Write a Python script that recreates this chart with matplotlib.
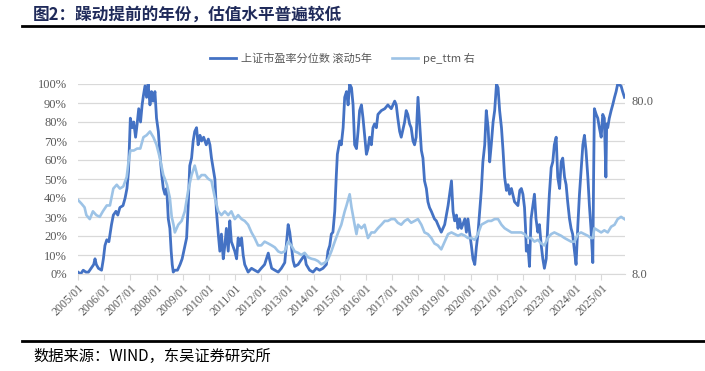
import matplotlib
matplotlib.use('Agg')
import matplotlib.pyplot as plt
from matplotlib.ticker import FixedLocator, NullLocator

plt.rcParams['font.family'] = ['Noto Sans CJK SC', 'DejaVu Sans']

# 上证市盈率分位数 滚动5年 (%), 时间为年份小数
t_pct = [2005.00, 2005.10, 2005.20, 2005.30, 2005.40, 2005.50, 2005.60, 2005.65, 2005.70, 2005.78,
         2005.90, 2005.97, 2006.03, 2006.10, 2006.18, 2006.28, 2006.35, 2006.45, 2006.52, 2006.60,
         2006.72, 2006.80, 2006.87, 2006.93, 2007.00, 2007.07, 2007.13, 2007.20, 2007.26, 2007.32,
         2007.39, 2007.45, 2007.50, 2007.56, 2007.62, 2007.68, 2007.75, 2007.81, 2007.87, 2007.94,
         2008.00, 2008.07, 2008.13, 2008.20, 2008.26, 2008.32, 2008.39, 2008.45, 2008.51, 2008.56,
         2008.60, 2008.64, 2008.70, 2008.80, 2008.90, 2008.98, 2009.15, 2009.21, 2009.27, 2009.34,
         2009.40, 2009.46, 2009.53, 2009.59, 2009.66, 2009.72, 2009.80, 2009.90, 2009.98, 2010.04,
         2010.10, 2010.23, 2010.29, 2010.36, 2010.42, 2010.48, 2010.55, 2010.61, 2010.67, 2010.74,
         2010.80, 2010.86, 2010.99, 2011.06, 2011.12, 2011.18, 2011.25, 2011.31, 2011.37, 2011.50,
         2011.63, 2011.75, 2011.88, 2012.00, 2012.13, 2012.27, 2012.33, 2012.40, 2012.52, 2012.65,
         2012.77, 2012.90, 2012.96, 2013.03, 2013.09, 2013.15, 2013.22, 2013.28, 2013.41, 2013.53,
         2013.66, 2013.72, 2013.85, 2013.98, 2014.11, 2014.23, 2014.36, 2014.49, 2014.55, 2014.62,
         2014.68, 2014.74, 2014.81, 2014.87, 2014.91, 2015.00, 2015.06, 2015.13, 2015.19, 2015.26,
         2015.32, 2015.38, 2015.45, 2015.51, 2015.57, 2015.64, 2015.70, 2015.76, 2015.83, 2015.89,
         2015.95, 2016.02, 2016.08, 2016.14, 2016.21, 2016.27, 2016.33, 2016.40, 2016.46, 2016.59,
         2016.72, 2016.84, 2016.97, 2017.10, 2017.16, 2017.22, 2017.29, 2017.35, 2017.48, 2017.54,
         2017.60, 2017.67, 2017.73, 2017.80, 2017.86, 2017.92, 2017.99, 2018.05, 2018.12, 2018.18,
         2018.24, 2018.31, 2018.37, 2018.43, 2018.50, 2018.56, 2018.62, 2018.69, 2018.75, 2018.88,
         2019.01, 2019.14, 2019.20, 2019.27, 2019.33, 2019.39, 2019.46, 2019.52, 2019.58, 2019.65,
         2019.78, 2019.84, 2019.90, 2019.97, 2020.03, 2020.09, 2020.16, 2020.22, 2020.28, 2020.35,
         2020.41, 2020.47, 2020.54, 2020.60, 2020.67, 2020.73, 2020.79, 2020.86, 2020.92, 2020.99,
         2021.05, 2021.11, 2021.18, 2021.24, 2021.30, 2021.37, 2021.43, 2021.49, 2021.56, 2021.68,
         2021.81, 2021.88, 2021.94, 2022.00, 2022.06, 2022.10, 2022.13, 2022.19, 2022.25, 2022.31,
         2022.44, 2022.50, 2022.57, 2022.63, 2022.70, 2022.76, 2022.82, 2022.89, 2022.95, 2023.01,
         2023.08, 2023.14, 2023.20, 2023.27, 2023.33, 2023.40, 2023.46, 2023.52, 2023.59, 2023.65,
         2023.71, 2023.78, 2023.84, 2023.90, 2023.97, 2024.03, 2024.10, 2024.16, 2024.22, 2024.29,
         2024.35, 2024.41, 2024.48, 2024.54, 2024.60, 2024.67, 2024.70, 2024.73, 2024.80, 2024.86,
         2024.92, 2024.99, 2025.05, 2025.11, 2025.17, 2025.20, 2025.24, 2025.30, 2025.37, 2025.43,
         2025.50, 2025.56, 2025.62, 2025.75, 2025.81, 2025.88]
pct = [1, 0, 2, 1, 1, 3, 5, 8, 5, 3,
       2, 8, 15, 18, 17, 26, 31, 33, 31, 35,
       36, 40, 45, 54, 82, 77, 80, 72, 79, 87,
       80, 89, 94, 99, 93, 100, 89, 96, 91, 96,
       82, 75, 63, 52, 45, 42, 45, 29, 24, 12,
       5, 1, 2, 2, 5, 8, 19, 36, 57, 61,
       70, 75, 77, 68, 73, 70, 72, 68, 71, 68,
       61, 50, 33, 21, 12, 21, 8, 15, 24, 12,
       28, 17, 12, 8, 19, 15, 19, 10, 5, 1,
       3, 2, 1, 3, 5, 11, 7, 3, 2, 1,
       3, 6, 15, 26, 22, 15, 7, 4, 5, 7.5,
       10, 5, 2, 1, 3, 2, 3, 5, 12, 15,
       21, 22, 33, 52, 63, 70, 68, 77, 93, 96,
       89, 100, 98, 89, 68, 66, 75, 86, 89, 82,
       73, 63, 66, 72, 68, 77, 79, 77, 84, 86,
       87, 89, 87, 91, 89, 82, 75, 72, 80, 86,
       84, 79, 77, 70, 68, 72, 93, 80, 65, 61,
       49, 45, 38, 35, 33, 31, 29, 28, 26, 22,
       26, 36, 42, 49, 33, 28, 31, 24, 29, 24,
       29, 22, 29, 21, 15, 8, 5, 14, 21, 33,
       44, 59, 68, 86, 77, 59, 68, 80, 86, 100,
       98, 86, 77, 65, 51, 44, 47, 42, 45, 38,
       36, 44, 45, 42, 35, 24, 12, 15, 4, 29,
       42, 29, 22, 26, 15, 8, 3, 8, 26, 42,
       56, 59, 68, 72, 51, 45, 59, 61, 51, 47,
       38, 29, 24, 21, 12, 5, 26, 42, 54, 68,
       73, 65, 51, 36, 24, 6, 51, 87, 84, 82,
       77, 72, 84, 82, 51, 79, 77, 82, 86, 89,
       93, 96, 100, 99, 96, 93]

# pe_ttm (右轴, 对数坐标)
t_pe = [2005.00, 2005.13, 2005.25, 2005.32, 2005.45, 2005.57, 2005.70, 2005.83, 2005.95, 2006.10,
        2006.22, 2006.35, 2006.48, 2006.60, 2006.73, 2006.86, 2006.93, 2007.00, 2007.13, 2007.26,
        2007.38, 2007.50, 2007.62, 2007.75, 2007.88, 2008.00, 2008.13, 2008.26, 2008.32, 2008.40,
        2008.51, 2008.58, 2008.65, 2008.70, 2008.83, 2008.96, 2009.08, 2009.21, 2009.34, 2009.46,
        2009.59, 2009.72, 2009.85, 2009.98, 2010.10, 2010.23, 2010.36, 2010.48, 2010.61, 2010.74,
        2010.86, 2010.99, 2011.12, 2011.25, 2011.37, 2011.50, 2011.63, 2011.75, 2011.88, 2012.00,
        2012.13, 2012.27, 2012.40, 2012.52, 2012.65, 2012.77, 2012.90, 2013.03, 2013.15, 2013.28,
        2013.41, 2013.53, 2013.66, 2013.79, 2013.92, 2014.05, 2014.17, 2014.30, 2014.43, 2014.55,
        2014.68, 2014.81, 2014.94, 2015.06, 2015.19, 2015.26, 2015.38, 2015.45, 2015.57, 2015.64,
        2015.70, 2015.83, 2015.95, 2016.08, 2016.21, 2016.33, 2016.46, 2016.59, 2016.72, 2016.84,
        2016.97, 2017.10, 2017.22, 2017.35, 2017.48, 2017.60, 2017.73, 2017.86, 2017.99, 2018.12,
        2018.24, 2018.37, 2018.50, 2018.62, 2018.75, 2018.88, 2019.01, 2019.14, 2019.27, 2019.39,
        2019.52, 2019.65, 2019.78, 2019.90, 2020.03, 2020.16, 2020.28, 2020.41, 2020.54, 2020.67,
        2020.79, 2020.92, 2021.05, 2021.18, 2021.30, 2021.43, 2021.56, 2021.68, 2021.81, 2021.94,
        2022.06, 2022.19, 2022.31, 2022.44, 2022.57, 2022.70, 2022.82, 2022.95, 2023.08, 2023.20,
        2023.33, 2023.46, 2023.59, 2023.71, 2023.84, 2023.97, 2024.10, 2024.22, 2024.35, 2024.48,
        2024.60, 2024.67, 2024.73, 2024.86, 2024.99, 2025.11, 2025.24, 2025.37, 2025.50, 2025.62,
        2025.75, 2025.88]
pe = [21.4, 20.4, 19.4, 17.5, 16.6, 18.4, 17.5, 17.1, 18.4, 19.9,
      19.9, 24.9, 26.2, 24.9, 25.6, 29.0, 35.5, 41.3, 41.3, 42.4,
      42.4, 49.3, 50.6, 53.2, 49.3, 44.6, 37.3, 29.8, 28.3, 26.2,
      22.0, 17.1, 15.4, 13.9, 15.4, 16.2, 18.4, 24.3, 29.8, 33.8,
      28.3, 29.8, 29.8, 28.3, 27.6, 22.0, 18.4, 17.5, 18.4, 17.5,
      18.4, 16.6, 17.5, 16.6, 16.2, 15.4, 13.9, 12.9, 11.7, 11.7,
      12.3, 12.0, 11.7, 11.4, 10.8, 10.6, 10.8, 12.3, 11.7, 10.8,
      10.6, 10.3, 10.6, 10.0, 9.8, 9.7, 9.5, 9.1, 9.3, 9.7,
      10.8, 12.3, 13.9, 15.4, 18.4, 19.9, 23.1, 19.4, 15.4, 13.6,
      15.4, 14.7, 15.4, 12.9, 13.9, 13.9, 14.7, 15.4, 16.2, 16.2,
      16.6, 16.6, 15.8, 15.4, 16.2, 16.6, 15.8, 16.2, 16.6, 15.4,
      13.9, 13.6, 12.9, 12.0, 11.7, 11.1, 12.3, 13.6, 13.9, 13.6,
      13.3, 13.6, 13.3, 12.9, 12.9, 12.6, 13.6, 15.4, 15.8, 16.2,
      16.2, 16.6, 16.6, 15.4, 14.7, 14.3, 13.9, 13.9, 13.9, 13.9,
      13.6, 12.9, 12.9, 12.3, 12.6, 12.0, 11.7, 12.9, 13.6, 13.9,
      13.6, 13.3, 12.9, 12.6, 12.3, 12.3, 13.6, 13.9, 13.6, 13.3,
      12.9, 12.9, 14.7, 14.3, 13.9, 14.3, 13.9, 15.0, 15.4, 16.6,
      17.1, 16.6]

years = list(range(2005, 2026))
year_labels = [f'{y}/01' for y in years]
pct_ticks = list(range(0, 101, 10))

serif = ['Liberation Serif', 'DejaVu Serif']
grey = '#595959'

fig = plt.figure(figsize=(7.05, 3.71), dpi=100)
ax = fig.add_axes([78 / 705, 97 / 371, 547 / 705, 190 / 371])

ax.plot(t_pct, pct, color='#4472C4', linewidth=2.0, label='上证市盈率分位数 滚动5年')
ax.set_xlim(2005, 2025.9)
ax.set_ylim(0, 100)
ax.set_yticks(pct_ticks)
ax.set_yticklabels([f'{v}%' for v in pct_ticks], family=serif, fontsize=9, color=grey)
ax.set_xticks(years)
ax.set_xticklabels(year_labels, rotation=45, ha='right', rotation_mode='anchor',
                   family=serif, fontsize=8.5, color=grey)
ax.grid(axis='y', color='#D9D9D9', linewidth=0.9)
ax.set_axisbelow(True)
for s in ['left', 'right', 'top']:
    ax.spines[s].set_visible(False)
ax.spines['bottom'].set_color('#D9D9D9')
ax.tick_params(axis='x', direction='out', length=4, color='#D9D9D9', pad=2)
ax.tick_params(axis='y', length=0, pad=8)

ax2 = ax.twinx()
ax2.plot(t_pe, pe, color='#9DC3E6', linewidth=1.9, label='pe_ttm 右')
ax2.set_yscale('log')
ax2.set_ylim(8, 100)
ax2.yaxis.set_major_locator(FixedLocator([8, 80]))
ax2.yaxis.set_minor_locator(NullLocator())
ax2.set_yticklabels(['8.0', '80.0'], family=serif, fontsize=9, color=grey)
ax2.tick_params(axis='y', length=0, pad=5)
for s in ax2.spines.values():
    s.set_visible(False)

h1, l1 = ax.get_legend_handles_labels()
h2, l2 = ax2.get_legend_handles_labels()
fig.legend(h1 + h2, l1 + l2, loc='center', bbox_to_anchor=(342 / 705, 1 - 58 / 371),
           ncol=2, frameon=False, fontsize=8, labelcolor=grey, handlelength=2.4,
           columnspacing=1.8, handletextpad=0.4)

# 标题与来源
fig.text(33 / 705, 1 - 15 / 371, '图2：躁动提前的年份，估值水平普遍较低', fontsize=12,
         fontweight='bold', color='#1F2A5A', va='center', ha='left')
fig.add_artist(plt.Line2D([22 / 705, 1.0], [1 - 26 / 371, 1 - 26 / 371], color='black', linewidth=2))
fig.add_artist(plt.Line2D([22 / 705, 1.0], [1 - 341 / 371, 1 - 341 / 371], color='black', linewidth=2))
fig.text(33 / 705, 1 - 356 / 371, '数据来源：WIND，东吴证券研究所', fontsize=11,
         color='black', va='center', ha='left')

plt.savefig('out.png', dpi=100)
